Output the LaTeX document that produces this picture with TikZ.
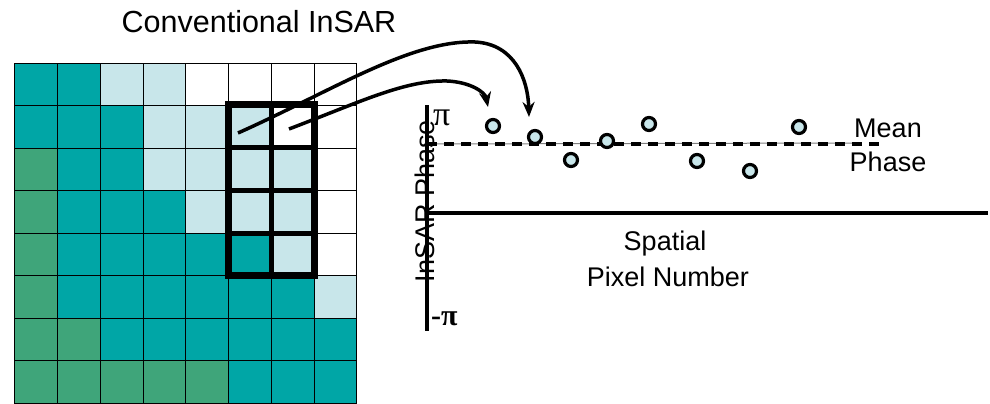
\documentclass[tikz,border=0pt]{standalone}
\usepackage{fontspec}
\setmainfont{Liberation Sans}
\newfontfamily\pifont{Liberation Serif}
\usetikzlibrary{arrows.meta}
\definecolor{cT}{HTML}{00A6A6}
\definecolor{cG}{HTML}{3FA57A}
\definecolor{cL}{HTML}{C8E6EA}
\definecolor{cW}{HTML}{FFFFFF}
\tikzset{
  cellbox/.style={line width=0.8pt, draw=black},
  sample/.style={circle, draw=black, fill=cL, line width=3.2pt, minimum size=13pt, inner sep=0pt},
  bigarrow/.style={line width=3.5pt, -{Stealth[length=15pt,width=12pt]}},
  axisline/.style={line width=4pt},
  lbl/.style={font=\fontsize{27}{31}\selectfont, inner sep=0pt, anchor=base},
}
\begin{document}
\begin{tikzpicture}[x=1pt,y=-1pt]
\useasboundingbox[fill=white] (0,0) rectangle (990,404);
% grid of pixels
\foreach \r/\row in {0/{T,T,L,L,W,W,W,W},1/{T,T,T,L,L,L,W,W},2/{G,T,T,L,L,L,L,W},3/{G,T,T,T,L,L,L,W},4/{G,T,T,T,T,T,L,W},5/{G,T,T,T,T,T,T,L},6/{G,G,T,T,T,T,T,T},7/{G,G,G,G,G,T,T,T}}{
  \foreach \c [count=\ci from 0] in \row {
    \path[cellbox, fill=c\c] ({14.7+42.75*\ci},{63.3+42.5*\r}) rectangle ++(42.75,42.5);
  }
}
% thick window
\draw[line width=7pt] (228.7,104.3) rectangle (314.7,275.3);
\foreach \yy in {147.7,190.3,233.3} \draw[line width=4.5pt] (228.7,\yy) -- (314.7,\yy);
\draw[line width=4.5pt] (271.7,104.3) -- (271.7,275.3);
% title
\node[lbl, font=\fontsize{30.5}{34}\selectfont] (title) at (259,33) {Conventional InSAR};
% axes
\coordinate (ytop) at (427,105);
\coordinate (ybot) at (427,331);
\coordinate (xl) at (427,213);
\coordinate (xr) at (988,213);
\draw[axisline] (ytop) -- (ybot);
\draw[axisline] (xl) -- (xr);
% mean phase line
\coordinate (ml) at (427,144);
\coordinate (mr) at (886,144);
\coordinate (mg) at (853,143);
\draw[line width=1pt, gray] (ml) -- (mg);
\draw[line width=4pt, dash pattern=on 10pt off 7pt] (ml) -- (mr);
% labels
\node[lbl, rotate=90] (ylab) at (434,201) {InSAR Phase};
\node[inner sep=0pt, anchor=base west, font=\pifont\fontsize{34}{38}\selectfont] (pitop) at (433,125) {π};
\node[inner sep=0pt, anchor=base west, font=\pifont\fontsize{30}{34}\selectfont\bfseries] (pibot) at (431,325) {-π};
\node[lbl] (mean) at (888,137) {Mean};
\node[lbl] (phase) at (888,171) {Phase};
\node[lbl] (spatial) at (665,250) {Spatial};
\node[lbl] (pixnum) at (668,286) {Pixel Number};
% samples
\node[sample] (p1) at (493,126) {};
\node[sample] (p2) at (535,137) {};
\node[sample] (p3) at (571,160) {};
\node[sample] (p4) at (607,141) {};
\node[sample] (p5) at (649,124) {};
\node[sample] (p6) at (697,161) {};
\node[sample] (p7) at (750,171) {};
\node[sample] (p8) at (799,127) {};
% arrows
\coordinate (s1) at (238,133);
\coordinate (e1) at (529,117);
\coordinate (s2) at (289,129);
\coordinate (e2) at (488,107);
\draw[bigarrow] (s1) .. controls (330,92) and (410,40) .. (475,42) .. controls (515,44) and (528,80) .. (e1);
\draw[bigarrow] (s2) .. controls (360,102) and (405,80) .. (447,81) .. controls (470,82) and (485,92) .. (e2);
\end{tikzpicture}
\end{document}
